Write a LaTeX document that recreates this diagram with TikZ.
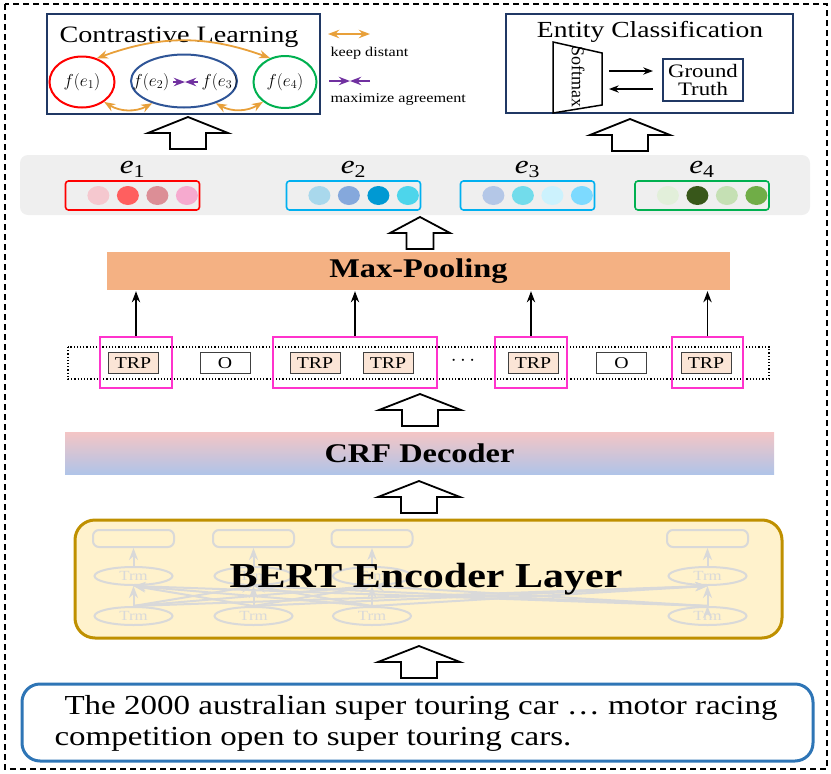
\documentclass[tikz,border=0pt]{standalone}
\usepackage{fontspec}
\setmainfont[FakeStretch=1.2]{Liberation Serif}
\newfontfamily\plainserif{Liberation Serif}
\usetikzlibrary{positioning, arrows.meta, shapes.geometric}

\definecolor{navy}{HTML}{203864}
\definecolor{midblue}{HTML}{2F5597}
\definecolor{keep}{HTML}{E8A03A}
\definecolor{agree}{HTML}{7030A0}
\definecolor{spanpink}{HTML}{FF33CC}
\definecolor{trpfill}{HTML}{FBE5D6}
\definecolor{poolfill}{HTML}{F4B183}
\definecolor{crftop}{HTML}{F4C5C5}
\definecolor{crfbottom}{HTML}{B0C4E8}
\definecolor{bertfill}{HTML}{FFF2CC}
\definecolor{bertline}{HTML}{BF9000}
\definecolor{inputline}{HTML}{2E75B6}
\definecolor{trmgray}{HTML}{D9D9D9}
\definecolor{panel}{HTML}{EFEFEF}
\definecolor{vecred}{HTML}{FF0000}
\definecolor{vecblue}{HTML}{00B0F0}
\definecolor{vecgreen}{HTML}{00B050}
\definecolor{ea}{HTML}{F5C8CF}\definecolor{eb}{HTML}{FF5F5F}
\definecolor{ec}{HTML}{DC8E96}\definecolor{ed}{HTML}{F6AACF}
\definecolor{fa}{HTML}{A9D8EC}\definecolor{fb}{HTML}{85A8DC}
\definecolor{fc}{HTML}{0099D3}\definecolor{fd}{HTML}{4DD5EB}
\definecolor{ga}{HTML}{B4C7E7}\definecolor{gb}{HTML}{72DCEB}
\definecolor{gc}{HTML}{CCF2FD}\definecolor{gd}{HTML}{7DDAFF}
\definecolor{ha}{HTML}{E2EFDA}\definecolor{hb}{HTML}{38571A}
\definecolor{hc}{HTML}{C5E0B4}\definecolor{hd}{HTML}{70AD47}

\newcommand{\entlabel}[1]{\textit{e}\textsubscript{#1}}

\tikzset{
  fsize/.style={font=\fontsize{#1}{#1}\selectfont},
  frame/.style={draw=navy, line width=2pt},
  embed/.style={ellipse, draw=#1, line width=2pt, inner sep=0pt, fsize=17},
  vec/.style={draw=#1, rounded corners=3pt, line width=1.6pt,
    minimum width=134pt, minimum height=29pt},
  dot/.style={ellipse, fill=#1, inner sep=0pt, minimum width=22pt, minimum height=19pt},
  tok/.style={draw=black!75, line width=0.8pt, minimum width=50pt,
    minimum height=21pt, inner sep=0pt, fsize=16.5},
  trp/.style={tok, fill=trpfill},
  spanbox/.style={draw=spanpink, line width=2pt, minimum height=51pt},
  bar/.style={minimum height=#1, inner sep=0pt, font=\fontsize{27}{27}\selectfont\bfseries},
  trm/.style={ellipse, draw=trmgray, line width=2pt, text=trmgray,
    minimum width=78pt, minimum height=18pt, inner sep=0pt, fsize=14},
  cell/.style={draw=trmgray, line width=2pt, rounded corners=6pt,
    minimum width=81pt, minimum height=17pt},
  trmline/.style={draw=trmgray, line width=2pt, ->},
  keepline/.style={keep, line width=1.8pt, <->},
  agreeline/.style={agree, line width=1.8pt, ->},
  pics/blockup/.style args={#1/#2}{code={
    \draw[line width=1.8pt, fill=white, line join=miter]
      (0,0) -- (#1,16) -- (#2,16) -- (#2,32) -- (-#2,32) -- (-#2,16) -- (-#1,16) -- cycle;}}
}

\begin{document}
\begin{tikzpicture}[x=1pt, y=-1pt, >=Stealth, node distance=29.5pt, on grid]
  \useasboundingbox (0,0) rectangle (831,774);
  \draw[line width=1.5pt, dash pattern=on 6pt off 4pt] (5,4) rectangle (827,769);

  % contrastive learning
  \node[frame, minimum width=273pt, minimum height=100pt] (cl) at (183,63.5) {};
  \node[fsize=23.5, anchor=base] (cltitle) at (179,42) {Contrastive Learning};
  \node[embed=vecred, minimum width=65pt, minimum height=51pt] (c1) at (82,82) {$f(e_1)$};
  \node[embed=midblue, minimum width=106pt, minimum height=53pt] (c23) at (184,81) {};
  \node[embed=vecgreen, minimum width=63pt, minimum height=52pt] (c4) at (285,82) {$f(e_4)$};
  \node[fsize=17] (f2) at (151,82) {$f(e_2)$};
  \node[fsize=17] (f3) at (220,82) {$f(e_3)$};
  \coordinate (meet) at (185,82);
  \path[agreeline] (f2.east) edge (meet) (f3.west) edge (meet);
  \draw[keepline] (c1.58) to[bend left=20] (c4.122);
  \draw[keepline] (c1.-42) to[bend right=30] (c23.-145);
  \draw[keepline] (c23.-35) to[bend right=30] (c4.-138);

  % legend
  \coordinate (k1) at (328,34);
  \coordinate (k2) at (370,34);
  \draw[keepline] (k1) -- (k2);
  \node[fsize=13.5, anchor=base west] (keeptxt) at (327,56) {keep distant};
  \coordinate (a1) at (329,81);
  \coordinate (a2) at (370,81);
  \coordinate (a3) at (350,81);
  \path[agreeline] (a1) edge (a3) (a2) edge (a3);
  \node[fsize=13.5, anchor=base west] (agreetxt) at (327,102) {maximize agreement};

  % entity classification
  \node[frame, minimum width=287pt, minimum height=99pt] (ec) at (649.5,63.5) {};
  \node[fsize=23, anchor=base] (ectitle) at (650,37) {Entity Classification};
  \draw[line width=1.5pt] (553,42) -- (602,53) -- (602,105) -- (553,113) -- cycle;
  \node[rotate=-90, font=\plainserif\fontsize{18}{18}\selectfont] (soft) at (578,77) {Softmax};
  \node[frame, minimum width=80pt, minimum height=42pt, align=center,
    font=\fontsize{19}{18}\selectfont] (truth) at (703,80) {Ground\\Truth};
  \coordinate (s1) at (609,71);
  \coordinate (s2) at (609,89);
  \draw[->, line width=1.5pt, shorten >=9pt] (s1) -- (s1 -| truth.west);
  \draw[<-, line width=1.5pt] (s2) -- ([xshift=-9pt]s2 -| truth.west);

  \pic at (188,117) {blockup=40/18};
  \pic at (630,119) {blockup=40/18};

  % entity vectors
  \node[fill=panel, rounded corners=8pt, minimum width=790pt, minimum height=60pt] (row) at (415,185) {};
  \node[vec=vecred] (v1) at (132.5,195.5) {};
  \node[vec=vecblue] (v2) at (353.5,195.5) {};
  \node[vec=vecblue] (v3) at (527.5,195.5) {};
  \node[vec=vecgreen] (v4) at (702,195.5) {};
  \node[fsize=26] (l1) [above=26pt of v1] {\entlabel{1}};
  \node[fsize=26] (l2) [above=26pt of v2] {\entlabel{2}};
  \node[fsize=26] (l3) [above=26pt of v3] {\entlabel{3}};
  \node[fsize=26] (l4) [above=26pt of v4] {\entlabel{4}};
  \node[dot=ea] (d11) [right=22.5pt of v1.west] {};
  \node[dot=eb] (d12) [right=of d11] {};
  \node[dot=ec] (d13) [right=of d12] {};
  \node[dot=ed] (d14) [right=of d13] {};
  \node[dot=fa] (d21) [right=22.5pt of v2.west] {};
  \node[dot=fb] (d22) [right=of d21] {};
  \node[dot=fc] (d23) [right=of d22] {};
  \node[dot=fd] (d24) [right=of d23] {};
  \node[dot=ga] (d31) [right=22.5pt of v3.west] {};
  \node[dot=gb] (d32) [right=of d31] {};
  \node[dot=gc] (d33) [right=of d32] {};
  \node[dot=gd] (d34) [right=of d33] {};
  \node[dot=ha] (d41) [right=22.5pt of v4.west] {};
  \node[dot=hb] (d42) [right=of d41] {};
  \node[dot=hc] (d43) [right=of d42] {};
  \node[dot=hd] (d44) [right=of d43] {};

  \pic at (420,217) {blockup=30/13.5};

  % max pooling and tags
  \node[bar=38pt, fill=poolfill, minimum width=623pt] (pool) at (418.5,271) {Max-Pooling};
  \draw[dotted, line width=1.2pt] (68,347) rectangle (769,379);
  \node[trp] (t1) at (133,363) {TRP};
  \node[tok] (t2) at (225,363) {O};
  \node[trp] (t3) at (315,363) {TRP};
  \node[trp] (t4) at (388,363) {TRP};
  \node[fsize=20] (t5) at (463,361) {$\cdots$};
  \node[trp] (t6) at (533,363) {TRP};
  \node[tok] (t7) at (621.5,363) {O};
  \node[trp] (t8) at (706,363) {TRP};
  \node[spanbox, minimum width=72pt] (p1) at (136,362.5) {};
  \node[spanbox, minimum width=164pt] (p2) at (355,362.5) {};
  \node[spanbox, minimum width=72pt] (p3) at (531,362.5) {};
  \node[spanbox, minimum width=71pt] (p4) at (707.5,362.5) {};
  \path[->, line width=1.8pt, shorten >=1pt]
    (p1.north) edge (p1.north |- pool.south)
    (p2.north) edge (p2.north |- pool.south)
    (p3.north) edge (p3.north |- pool.south)
    (p4.north) edge (p4.north |- pool.south);

  \pic at (420,394) {blockup=41/18};

  % crf decoder
  \node[bar=42pt, top color=crftop, bottom color=crfbottom, minimum width=709pt] (crf) at (419.5,453) {CRF Decoder};

  \pic at (419,481) {blockup=41/18};

  % bert encoder
  \node[draw=bertline, fill=bertfill, line width=3pt, rounded corners=20pt,
    minimum width=707pt, minimum height=118pt] (bert) at (428.5,579) {};
  \node[cell] (r1) at (133.5,538.5) {};
  \node[cell] (r2) at (253.5,538.5) {};
  \node[cell] (r3) at (372,538.5) {};
  \node[cell] (r4) at (707.5,538.5) {};
  \node[trm] (m1) at (133.5,576) {Trm};
  \node[trm] (m2) at (253.5,576) {Trm};
  \node[trm] (m3) at (372,576) {Trm};
  \node[trm] (m4) at (707.5,576) {Trm};
  \node[trm] (b1) at (133.5,616) {Trm};
  \node[trm] (b2) at (253.5,616) {Trm};
  \node[trm] (b3) at (372,616) {Trm};
  \node[trm] (b4) at (707.5,616) {Trm};
  \path[trmline]
    (m1) edge (r1) (m2) edge (r2) (m3) edge (r3) (m4) edge (r4)
    (b1.north) edge (m1.south) edge (m2.south) edge (m3.south) edge (m4.south)
    (b2.north) edge (m1.south) edge (m2.south) edge (m3.south) edge (m4.south)
    (b3.north) edge (m1.south) edge (m2.south) edge (m3.south) edge (m4.south)
    (b4.north) edge (m1.south) edge (m2.south) edge (m3.south) edge (m4.south);
  \node[font=\fontsize{35}{35}\selectfont\bfseries] (berttxt) at (426,579) {BERT Encoder Layer};

  \pic at (419,646) {blockup=41/18};

  % input sentence
  \node[draw=inputline, line width=3pt, rounded corners=18pt,
    minimum width=791pt, minimum height=77pt] (input) at (417.5,722.5) {};
  \node[fsize=27.5, anchor=base west] (line1) at (61,714)
    {The 2000 australian super touring car … motor racing};
  \node[fsize=27.5, anchor=base west] (line2) at (51,745)
    {competition open to super touring cars.};
\end{tikzpicture}
\end{document}
